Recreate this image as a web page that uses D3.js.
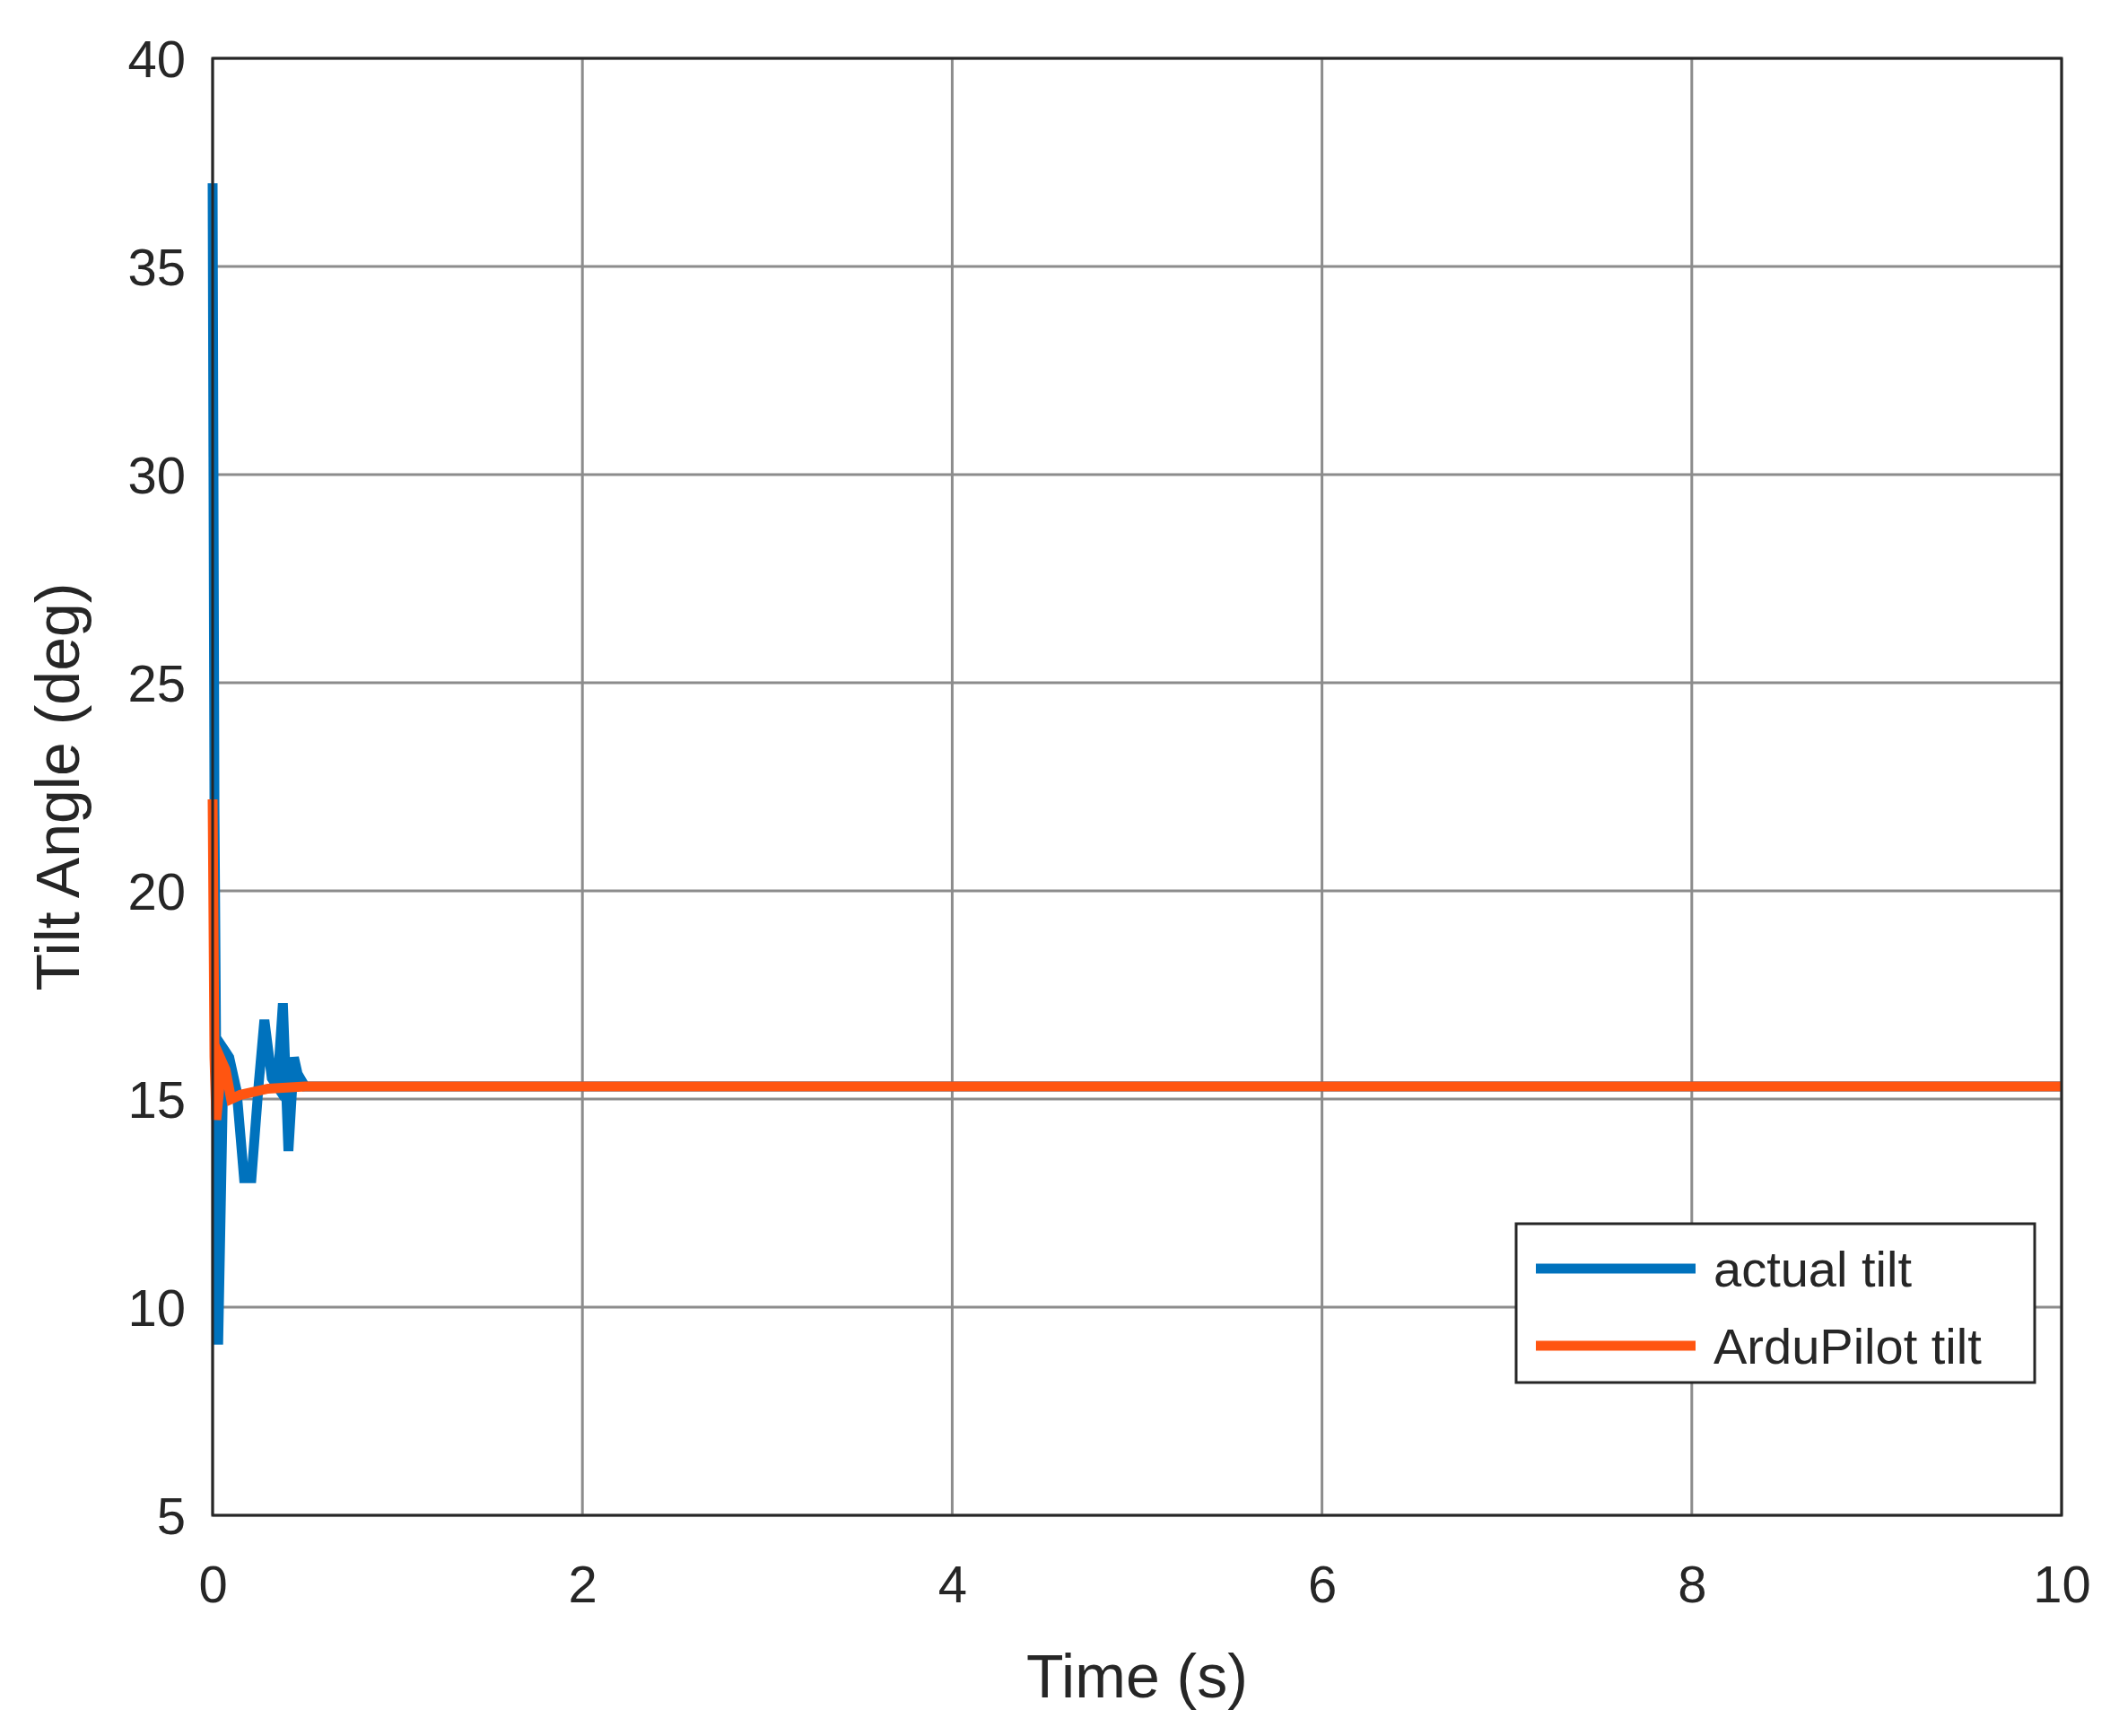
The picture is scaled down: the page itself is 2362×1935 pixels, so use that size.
<!DOCTYPE html><html><head><meta charset="utf-8">
<script src="https://cdn.jsdelivr.net/npm/d3@7"></script>
<style>body{margin:0;background:#fff}text{font-family:"Liberation Sans",Arial,sans-serif;fill:#262626}</style>
</head><body><svg id="c" width="2362" height="1935"></svg><script>
const xTicks=[0,2,4,6,8,10];
const yTicks=[5,10,15,20,25,30,35,40];
const actualT=[0,0.01,0.03,0.06,0.09,0.13,0.17,0.21,0.25,0.28,0.32,0.35,0.38,0.41,0.44,0.46,0.5,0.6,1,2,5,10];
const actualV=[37,22,9.1,16.2,16.0,15.2,13.1,13.1,15.4,16.9,15.5,15.3,17.3,13.75,16.0,15.6,15.3,15.3,15.3,15.3,15.3,15.3];
const arduT=[0,0.01,0.02,0.05,0.07,0.1,0.15,0.3,0.5,1,5,10];
const arduV=[22.2,16,14.5,15.9,15.7,15.0,15.1,15.25,15.3,15.3,15.3,15.3];
const svg=d3.select("#c");
const L=237,R=2298,T=65,B=1689;
const x=d3.scaleLinear().domain([0,10]).range([L,R]);
const y=d3.scaleLinear().domain([5,40]).range([B,T]);
const g=svg.append("g");
xTicks.forEach(t=>g.append("line").attr("x1",x(t)).attr("x2",x(t)).attr("y1",T).attr("y2",B).attr("stroke","#8c8c8c").attr("stroke-width",3));
yTicks.forEach(t=>g.append("line").attr("x1",L).attr("x2",R).attr("y1",y(t)).attr("y2",y(t)).attr("stroke","#8c8c8c").attr("stroke-width",3));
const line=d3.line().x(d=>x(d[0])).y(d=>y(d[1]));
svg.append("path").datum(actualT.map((t,i)=>[t,actualV[i]])).attr("d",line).attr("fill","none").attr("stroke","#0072BD").attr("stroke-width",11);
svg.append("path").datum(arduT.map((t,i)=>[t,arduV[i]])).attr("d",line).attr("fill","none").attr("stroke","#FF5511").attr("stroke-width",11);
svg.append("rect").attr("x",L).attr("y",T).attr("width",R-L).attr("height",B-T).attr("fill","none").attr("stroke","#262626").attr("stroke-width",3);
const xa=svg.append("g").attr("transform",`translate(0,${B})`).call(d3.axisBottom(x).tickValues(xTicks).tickSize(0).tickPadding(56));
const ya=svg.append("g").attr("transform",`translate(${L},0)`).call(d3.axisLeft(y).tickValues(yTicks).tickSize(0).tickPadding(30));
[xa,ya].forEach(a=>{a.select(".domain").remove();a.selectAll("text").attr("font-size",58).attr("fill","#262626").style("font-family","Liberation Sans, Arial, sans-serif");});
ya.selectAll("text").attr("dy","0.35em");
svg.append("text").attr("x",(L+R)/2).attr("y",1892).attr("text-anchor","middle").attr("font-size",68).text("Time (s)");
svg.append("text").attr("transform",`translate(88,${(T+B)/2}) rotate(-90)`).attr("text-anchor","middle").attr("font-size",68).text("Tilt Angle (deg)");
const lg=svg.append("g");
lg.append("rect").attr("x",1690).attr("y",1364).attr("width",578).attr("height",177).attr("fill","#fff").attr("stroke","#262626").attr("stroke-width",3);
[["actual tilt","#0072BD",1414],["ArduPilot tilt","#FF5511",1500]].forEach(([n,c,yy])=>{
 lg.append("line").attr("x1",1712).attr("x2",1890).attr("y1",yy).attr("y2",yy).attr("stroke",c).attr("stroke-width",11);
 lg.append("text").attr("x",1910).attr("y",yy).attr("dy","0.35em").attr("font-size",56).text(n);
});
</script></body></html>
